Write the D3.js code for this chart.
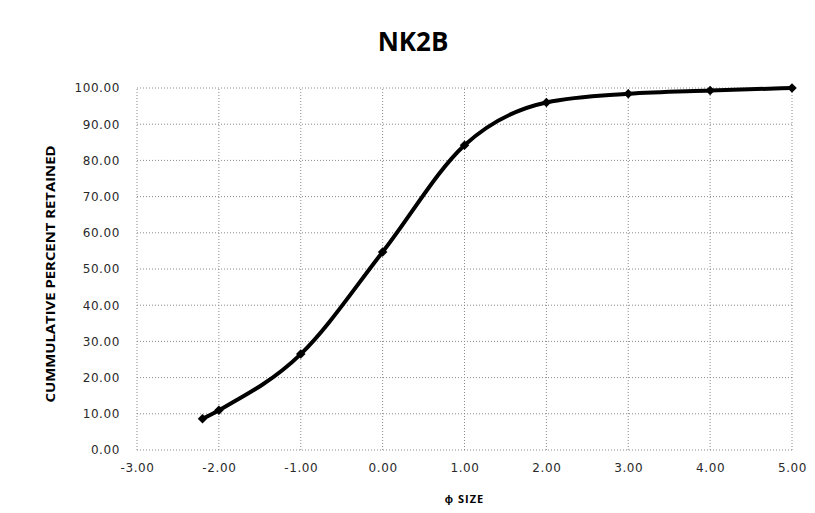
<!DOCTYPE html>
<html>
<head>
<meta charset="utf-8">
<script src="https://cdnjs.cloudflare.com/ajax/libs/d3/7.8.5/d3.min.js"></script>
<style>
    body { margin: 0; background: #fff; }
    #chart { width: 815px; height: 513px; }
</style>
</head>
<body>
<div id="chart"></div>
<script>
// data
const phiSize = [-2.2, -2, -1, 0, 1, 2, 3, 4, 5];
const cumRetained = [8.6, 11.0, 26.5, 54.7, 84.2, 96.0, 98.4, 99.3, 100.0];

// tick values
const xTicks = [-3, -2, -1, 0, 1, 2, 3, 4, 5];
const yTicks = [0, 10, 20, 30, 40, 50, 60, 70, 80, 90, 100];

const chartTitle = 'NK2B';
const xTitle = 'ϕ SIZE';
const yTitle = 'CUMMULATIVE PERCENT RETAINED';

const root = document.getElementById('chart');
const width = 815;
const height = 513;
const margin = {t:88, r:23, b:63, l:137};

const data = phiSize.map((d, i) => ({x: d, y: cumRetained[i]}));

const scaleX = d3.scaleLinear().domain([-3, 5]).range([margin.l, width - margin.r]);
const scaleY = d3.scaleLinear().domain([0, 100]).range([height - margin.b, margin.t]);

// excel style labels, plain hyphen for negatives
const fmt = d => d.toFixed(2);

const svg = d3.select(root)
    .append('svg')
    .attr('width', width)
    .attr('height', height);

// dotted grid
const grid = svg.append('g')
    .attr('stroke', '#8a8a8a')
    .attr('stroke-width', 1)
    .attr('stroke-dasharray', '1,2');

grid.selectAll('line.h')
    .data(yTicks)
    .enter()
    .append('line')
    .attr('x1', scaleX(-3))
    .attr('x2', scaleX(5))
    .attr('y1', d => scaleY(d))
    .attr('y2', d => scaleY(d));

grid.selectAll('line.v')
    .data(xTicks)
    .enter()
    .append('line')
    .attr('x1', d => scaleX(d))
    .attr('x2', d => scaleX(d))
    .attr('y1', scaleY(0))
    .attr('y2', scaleY(100));

// axes, labels only
const xAxis = svg.append('g')
    .attr('transform', `translate(0,${scaleY(0) + 10})`)
    .call(d3.axisBottom(scaleX).tickValues(xTicks).tickSize(0).tickFormat(fmt));

const yAxis = svg.append('g')
    .attr('transform', `translate(${scaleX(-3) - 14},0)`)
    .call(d3.axisLeft(scaleY).tickValues(yTicks).tickSize(0).tickFormat(fmt));

[xAxis, yAxis].forEach(a => {
    a.select('.domain').remove();
    a.selectAll('text')
        .attr('font-family', 'DejaVu Sans, sans-serif')
        .attr('font-size', 12)
        .attr('letter-spacing', 0.6)
        .attr('fill', '#2a2a2a');
});

// smoothed curve
const path = d3.line()
    .curve(d3.curveMonotoneX)
    .x(d => scaleX(d.x))
    .y(d => scaleY(d.y));

svg.append('path')
    .datum(data)
    .attr('fill', 'none')
    .attr('stroke', '#000')
    .attr('stroke-width', 4)
    .attr('stroke-linejoin', 'round')
    .attr('d', path);

// diamond markers
svg.selectAll('path.marker')
    .data(data)
    .enter()
    .append('path')
    .attr('class', 'marker')
    .attr('transform', d => `translate(${scaleX(d.x)},${scaleY(d.y)}) rotate(45)`)
    .attr('d', d3.symbol().type(d3.symbolSquare).size(45))
    .attr('fill', '#000');

// titles
svg.append('text')
    .attr('x', 413)
    .attr('y', 51)
    .attr('text-anchor', 'middle')
    .attr('font-family', 'Open Sans, sans-serif')
    .attr('font-weight', 'bold')
    .attr('font-size', 26)
    .text(chartTitle);

svg.append('text')
    .attr('x', (scaleX(-3) + scaleX(5)) / 2)
    .attr('y', 503)
    .attr('text-anchor', 'middle')
    .attr('font-family', 'Open Sans, sans-serif')
    .attr('font-weight', 'bold')
    .attr('font-size', 11)
    .attr('letter-spacing', 1)
    .text(xTitle);

svg.append('text')
    .attr('transform', `translate(55,274) rotate(-90)`)
    .attr('text-anchor', 'middle')
    .attr('font-family', 'Open Sans, sans-serif')
    .attr('font-weight', 'bold')
    .attr('font-size', 13)
    .attr('textLength', 257)
    .attr('lengthAdjust', 'spacingAndGlyphs')
    .text(yTitle);
</script>
</body>
</html>
